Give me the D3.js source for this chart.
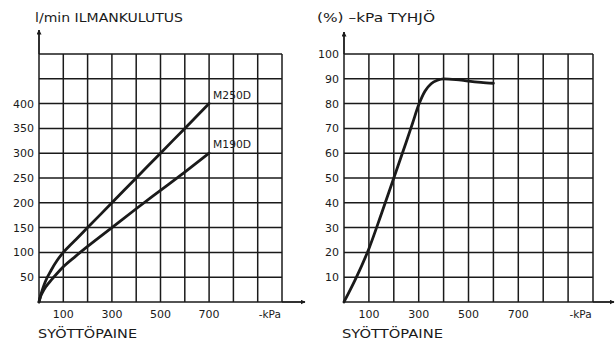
<!DOCTYPE html>
<html>
<head>
<meta charset="utf-8">
<script src="https://cdn.jsdelivr.net/npm/d3@7/dist/d3.min.js"></script>
<style>
  html, body { margin: 0; padding: 0; background: #fff; }
  svg { display: block; }
  text { font-family: "DejaVu Sans", "Liberation Sans", sans-serif; fill: #1a1a1a; }
</style>
</head>
<body>
<svg id="chart" width="615" height="345"></svg>
<script>
// Feed pressure (kPa) and air consumption (l/min) for the two ejector models
const m250dPressure = [0, 5, 12, 25, 50, 75, 100, 125, 150, 200, 300, 400, 500, 600, 700];
const m250dFlow     = [0, 10, 22, 40, 64, 84, 100, 113, 125, 150, 200, 250, 300, 350, 400];
const m190dPressure = [0, 5, 15, 30, 50, 75, 100, 150, 200, 300, 400, 500, 600, 700];
const m190dFlow     = [0, 9, 20, 32, 44, 58, 71, 92, 112, 150, 188, 225, 262, 300];

// Feed pressure (kPa) and vacuum level (% / -kPa)
const vacPressure = [0, 50, 100, 150, 200, 250, 275, 300, 325, 350, 375, 400, 450, 500, 550, 600];
const vacLevel    = [0, 10, 21.5, 35.5, 50, 64.5, 72, 79.5, 85, 88, 89.4, 90, 89.7, 89.1, 88.6, 88.2];

// Tick labels
const pressureTicks = [100, 300, 500, 700];
const flowTicks = [50, 100, 150, 200, 250, 300, 350, 400];
const vacTicks = [10, 20, 30, 40, 50, 60, 70, 80, 90, 100];
const flowGrid = d3.range(0, 501, 50);
const vacGrid = d3.range(0, 101, 10);
const pressureGrid = d3.range(0, 1001, 100);

const svg = d3.select("#chart");
const ink = "#1a1a1a";

svg.append("defs").append("marker")
  .attr("id", "arrow")
  .attr("viewBox", "0 0 10 10")
  .attr("refX", 9).attr("refY", 5)
  .attr("markerWidth", 5).attr("markerHeight", 5)
  .attr("markerUnits", "userSpaceOnUse")
  .attr("orient", "auto")
  .append("path").attr("d", "M0,0 L10,5 L0,10 Z").attr("fill", ink);

function drawPanel(opt) {
  const x = d3.scaleLinear().domain([0, 1000]).range(opt.xRange);
  const y = d3.scaleLinear().domain(opt.yDomain).range([302, 54]);
  const g = svg.append("g");

  // grid
  g.selectAll(".vgrid").data(pressureGrid).join("line")
    .attr("x1", d => x(d)).attr("x2", d => x(d))
    .attr("y1", y.range()[0]).attr("y2", y.range()[1])
    .attr("stroke", ink).attr("stroke-width", 1.5);
  g.selectAll(".hgrid").data(opt.grid).join("line")
    .attr("x1", x.range()[0]).attr("x2", x.range()[1])
    .attr("y1", d => y(d)).attr("y2", d => y(d))
    .attr("stroke", ink).attr("stroke-width", 1.5);

  // axis arrows
  g.append("line")
    .attr("x1", x(0)).attr("x2", x(0))
    .attr("y1", y(opt.yDomain[1])).attr("y2", opt.yArrowTip)
    .attr("stroke", ink).attr("stroke-width", 1.8)
    .attr("marker-end", "url(#arrow)");
  g.append("line")
    .attr("x1", x(1000)).attr("x2", opt.xArrowTip)
    .attr("y1", y(0)).attr("y2", y(0))
    .attr("stroke", ink).attr("stroke-width", 1.8)
    .attr("marker-end", "url(#arrow)");

  // y tick labels
  g.selectAll(".ylab").data(opt.yTicks).join("text")
    .attr("x", x(0) - 5).attr("y", d => y(d))
    .attr("dy", "0.36em")
    .attr("text-anchor", "end")
    .attr("font-size", 11)
    .text(d => d);

  // x tick labels
  g.selectAll(".xlab").data(pressureTicks).join("text")
    .attr("x", d => x(d)).attr("y", 318)
    .attr("text-anchor", "middle")
    .attr("font-size", 11)
    .text(d => d);
  g.append("text")
    .attr("x", x(950)).attr("y", 318)
    .attr("text-anchor", "middle")
    .attr("font-size", 10.5)
    .text("-kPa");

  // titles
  g.append("text")
    .attr("x", opt.titleX).attr("y", 22)
    .attr("font-size", 12.5)
    .attr("textLength", opt.titleWidth).attr("lengthAdjust", "spacingAndGlyphs")
    .text(opt.title);
  g.append("text")
    .attr("x", opt.xTitleX).attr("y", 338)
    .attr("font-size", 13)
    .attr("textLength", opt.xTitleWidth).attr("lengthAdjust", "spacingAndGlyphs")
    .text("SYÖTTÖPAINE");

  // curves
  const line = d3.line().x(d => x(d[0])).y(d => y(d[1])).curve(d3.curveMonotoneX);
  opt.series.forEach(s => {
    g.append("path")
      .datum(d3.zip(s.p, s.v))
      .attr("d", line)
      .attr("fill", "none")
      .attr("stroke", ink)
      .attr("stroke-width", 2.8)
      .attr("stroke-linecap", "round")
      .attr("stroke-linejoin", "round");
    if (s.label) {
      const last = s.p.length - 1;
      g.append("text")
        .attr("x", x(s.p[last]) + 4).attr("y", y(s.v[last]) - 5)
        .attr("font-size", 10)
        .attr("textLength", 38).attr("lengthAdjust", "spacingAndGlyphs")
        .text(s.label);
    }
  });
}

drawPanel({
  xRange: [39, 282],
  yDomain: [0, 500],
  grid: flowGrid,
  yTicks: flowTicks,
  yArrowTip: 30,
  xArrowTip: 305,
  title: "l/min ILMANKULUTUS",
  titleX: 35, titleWidth: 148,
  xTitleX: 38, xTitleWidth: 99,
  series: [
    { p: m250dPressure, v: m250dFlow, label: "M250D" },
    { p: m190dPressure, v: m190dFlow, label: "M190D" }
  ]
});

drawPanel({
  xRange: [344, 593],
  yDomain: [0, 100],
  grid: vacGrid,
  yTicks: vacTicks,
  yArrowTip: 32,
  xArrowTip: 614,
  title: "(%) \u2013kPa TYHJÖ",
  titleX: 317, titleWidth: 118,
  xTitleX: 342, xTitleWidth: 101,
  series: [
    { p: vacPressure, v: vacLevel }
  ]
});
</script>
</body>
</html>
